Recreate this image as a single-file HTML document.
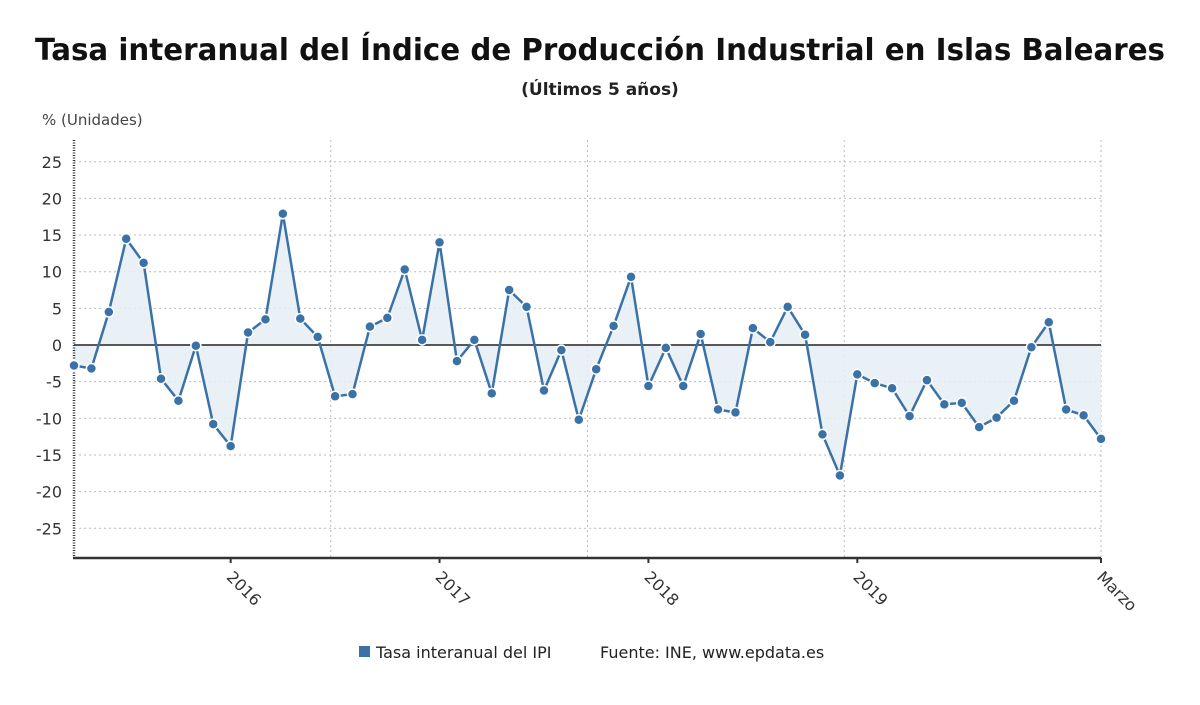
<!DOCTYPE html>
<html><head><meta charset="utf-8"><style>
body{margin:0;background:#fff;font-family:"DejaVu Sans","Liberation Sans",sans-serif}
</style></head><body>
<svg id="c" width="1200" height="705" xmlns="http://www.w3.org/2000/svg" style="display:block;font-family:'DejaVu Sans','Liberation Sans',sans-serif">
<text x="600" y="60" text-anchor="middle" font-size="30" font-weight="bold" fill="#111" textLength="1130" lengthAdjust="spacingAndGlyphs">Tasa interanual del Índice de Producción Industrial en Islas Baleares</text>
<text x="600" y="95" text-anchor="middle" font-size="17" font-weight="bold" fill="#222">(Últimos 5 años)</text>
<text x="42" y="125" font-size="15" fill="#444">% (Unidades)</text>
<g id="grid"></g><g id="area"></g><g id="axes"></g><g id="series"></g>
<g>
<rect x="359" y="646" width="11" height="11" fill="#3a72a8"/>
<text x="376" y="658" font-size="16" fill="#222">Tasa interanual del IPI</text>
<text x="600" y="658" font-size="16" fill="#222">Fuente: INE, www.epdata.es</text>
</g>
</svg>
<script>
const values=[-2.8,-3.2,4.5,14.5,11.2,-4.6,-7.6,-0.1,-10.8,-13.8,1.7,3.5,17.9,3.6,1.1,-7.0,-6.7,2.5,3.7,10.3,0.7,14.0,-2.2,0.7,-6.6,7.5,5.2,-6.2,-0.7,-10.2,-3.3,2.6,9.3,-5.6,-0.4,-5.6,1.5,-8.8,-9.2,2.3,0.4,5.2,1.4,-12.2,-17.8,-4.0,-5.2,-5.9,-9.7,-4.8,-8.1,-7.9,-11.2,-9.9,-7.6,-0.3,3.1,-8.8,-9.6,-12.8];
const yTicks=[25,20,15,10,5,0,-5,-10,-15,-20,-25];
const xLabels=["2016","2017","2018","2019","Marzo"];
const xLabelIdx=[9,21,33,45,59];
const vGridIdx=[14.75,29.5,44.25,59];
const NS="http://www.w3.org/2000/svg";
const X0=74,X1=1101,Y0=345,PPU=7.33,TOP=140,BOT=558;
const x=i=>X0+i*(X1-X0)/(values.length-1);
const y=v=>Y0-v*PPU;
function mk(t,a,p){const e=document.createElementNS(NS,t);for(const k in a)e.setAttribute(k,a[k]);p.appendChild(e);return e;}
const grid=document.getElementById('grid'),axes=document.getElementById('axes'),ser=document.getElementById('series'),area=document.getElementById('area');
yTicks.forEach(v=>{
 if(v!==0){const l=mk('line',{x1:X0,x2:X1,y1:y(v),y2:y(v),stroke:'#bbb','stroke-dasharray':'2,3'},grid);
 }
 const t=mk('text',{x:62,y:y(v)+6,'text-anchor':'end','font-size':16,fill:'#333'},axes);t.textContent=v;
 
});
vGridIdx.forEach(i=>{const l=mk('line',{x1:x(i),x2:x(i),y1:TOP,y2:BOT,stroke:'#bbb','stroke-dasharray':'2,3'},grid);
 });
let d='M'+x(0)+','+Y0;values.forEach((v,i)=>d+='L'+x(i)+','+y(v));d+='L'+x(values.length-1)+','+Y0+'Z';
const ar=mk('path',{d:d,fill:'#e6eef5',opacity:0.85},area);

let z=mk('line',{x1:X0,x2:X1,y1:Y0,y2:Y0,stroke:'#222','stroke-width':1.5},axes);

let la=mk('line',{x1:X0,x2:X0,y1:TOP,y2:BOT,stroke:'#333','stroke-width':2.5,'stroke-dasharray':'1,1.5'},axes);

let ba=mk('line',{x1:X0-1,x2:X1,y1:BOT,y2:BOT,stroke:'#333','stroke-width':2.5},axes);

xLabels.forEach((s,k)=>{const xi=x(xLabelIdx[k]);
 mk('line',{x1:xi,x2:xi,y1:BOT,y2:BOT+5,stroke:'#333','stroke-width':2},axes);
 const t=mk('text',{x:xi-5,y:BOT+20,'font-size':16,fill:'#333',transform:`rotate(45 ${xi-5} ${BOT+20})`},axes);t.textContent=s;
 });
const pl=mk('polyline',{points:values.map((v,i)=>x(i)+','+y(v)).join(' '),fill:'none',stroke:'#3a72a8','stroke-width':2.5},ser);

values.forEach((v,i)=>{const c=mk('circle',{cx:x(i),cy:y(v),r:5,fill:'#3a72a8',stroke:'#fff','stroke-width':1.5},ser);
 });
</script>
</body></html>
